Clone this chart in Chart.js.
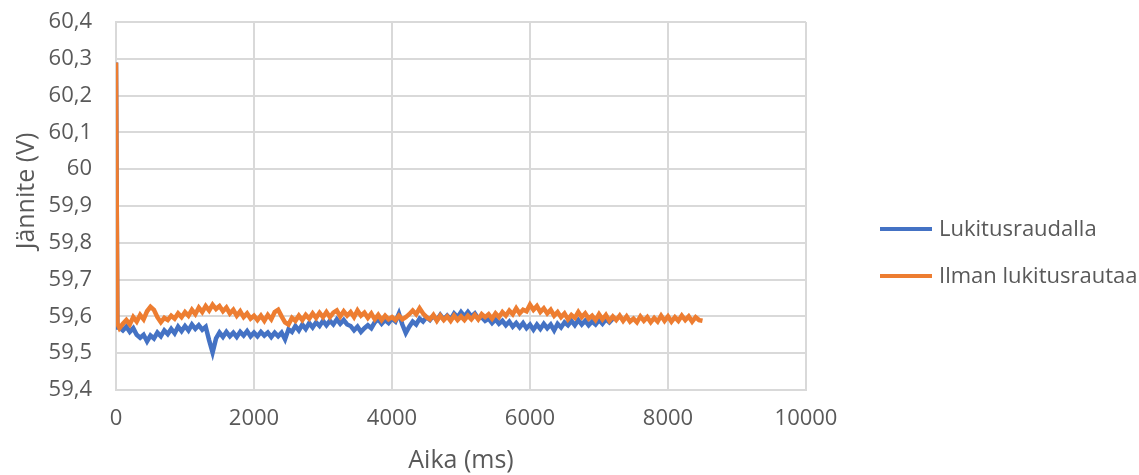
<!DOCTYPE html>
<html>
<head>
<meta charset="utf-8">
<script src="https://cdn.jsdelivr.net/npm/chart.js@4.4.1/dist/chart.umd.min.js"></script>
<style>
  html, body { margin: 0; padding: 0; background: #ffffff; }
  canvas { display: block; }
</style>
</head>
<body>
<canvas id="c" width="1139" height="475"></canvas>
<script>
// ---- Data ----
const seriesNames = ["Lukitusraudalla", "Ilman lukitusrautaa"];
const xTickValues = [0, 2000, 4000, 6000, 8000, 10000];
const yTickValues = [59.4, 59.5, 59.6, 59.7, 59.8, 59.9, 60, 60.1, 60.2, 60.3, 60.4];
const xTitle = "Aika (ms)";
const yTitle = "Jännite (V)";

const timeMs = [
  0, 20,
  50, 100, 150, 200, 250, 300, 350, 400, 450, 500,
  550, 600, 650, 700, 750, 800, 850, 900, 950, 1000,
  1050, 1100, 1150, 1200, 1250, 1300, 1350, 1400, 1450, 1500,
  1550, 1600, 1650, 1700, 1750, 1800, 1850, 1900, 1950, 2000,
  2050, 2100, 2150, 2200, 2250, 2300, 2350, 2400, 2450, 2500,
  2550, 2600, 2650, 2700, 2750, 2800, 2850, 2900, 2950, 3000,
  3050, 3100, 3150, 3200, 3250, 3300, 3350, 3400, 3450, 3500,
  3550, 3600, 3650, 3700, 3750, 3800, 3850, 3900, 3950, 4000,
  4050, 4100, 4150, 4200, 4250, 4300, 4350, 4400, 4450, 4500,
  4550, 4600, 4650, 4700, 4750, 4800, 4850, 4900, 4950, 5000,
  5050, 5100, 5150, 5200, 5250, 5300, 5350, 5400, 5450, 5500,
  5550, 5600, 5650, 5700, 5750, 5800, 5850, 5900, 5950, 6000,
  6050, 6100, 6150, 6200, 6250, 6300, 6350, 6400, 6450, 6500,
  6550, 6600, 6650, 6700, 6750, 6800, 6850, 6900, 6950, 7000,
  7050, 7100, 7150, 7200, 7250, 7300, 7350, 7400, 7450, 7500,
  7550, 7600, 7650, 7700, 7750, 7800, 7850, 7900, 7950, 8000,
  8050, 8100, 8150, 8200, 8250, 8300, 8350, 8400, 8450, 8500
];

const voltWithIron = [
  60.29, 59.57,
  59.57, 59.562, 59.572, 59.558, 59.568, 59.55, 59.542, 59.55, 59.532, 59.548,
  59.54, 59.556, 59.546, 59.562, 59.552, 59.566, 59.554, 59.572, 59.56, 59.574,
  59.562, 59.578, 59.566, 59.576, 59.564, 59.572, 59.535, 59.502, 59.54, 59.556,
  59.544, 59.558, 59.546, 59.556, 59.544, 59.558, 59.548, 59.56, 59.546, 59.556,
  59.546, 59.558, 59.548, 59.556, 59.544, 59.556, 59.546, 59.556, 59.538, 59.565,
  59.558, 59.574, 59.562, 59.578, 59.566, 59.582, 59.57, 59.584, 59.574, 59.588,
  59.576, 59.588, 59.578, 59.592, 59.58, 59.59, 59.578, 59.574, 59.562, 59.572,
  59.558, 59.568, 59.576, 59.568, 59.584, 59.592, 59.58, 59.59, 59.582, 59.594,
  59.586, 59.608, 59.578, 59.555, 59.572, 59.586, 59.578, 59.594, 59.586, 59.598,
  59.59, 59.602, 59.59, 59.604, 59.592, 59.602, 59.592, 59.608, 59.598, 59.612,
  59.6, 59.612, 59.6, 59.608, 59.594, 59.598, 59.588, 59.594, 59.582, 59.592,
  59.58, 59.588, 59.576, 59.586, 59.572, 59.582, 59.57, 59.582, 59.568, 59.578,
  59.564, 59.578, 59.566, 59.58, 59.568, 59.578, 59.562, 59.58, 59.57, 59.584,
  59.576, 59.588, 59.576, 59.59, 59.578, 59.588, 59.576, 59.586, 59.578, 59.59,
  59.58, 59.592, 59.584, 59.594
];

const voltWithoutIron = [
  60.29, 59.58,
  59.568, 59.58, 59.59, 59.578, 59.598, 59.586, 59.604, 59.592, 59.614, 59.626,
  59.618, 59.598, 59.584, 59.596, 59.59, 59.602, 59.594, 59.608, 59.598, 59.612,
  59.602, 59.618, 59.606, 59.624, 59.612, 59.628, 59.616, 59.632, 59.62, 59.628,
  59.614, 59.624, 59.608, 59.618, 59.602, 59.614, 59.598, 59.608, 59.594, 59.602,
  59.59, 59.602, 59.588, 59.604, 59.592, 59.612, 59.618, 59.6, 59.584, 59.578,
  59.596, 59.588, 59.602, 59.59, 59.604, 59.594, 59.608, 59.596, 59.61, 59.598,
  59.612, 59.598, 59.61, 59.616, 59.6, 59.614, 59.602, 59.612, 59.598, 59.616,
  59.602, 59.61, 59.596, 59.608, 59.592, 59.604, 59.59, 59.602, 59.592, 59.598,
  59.59, 59.602, 59.592, 59.598, 59.606, 59.616, 59.606, 59.622, 59.608, 59.598,
  59.592, 59.604, 59.588, 59.602, 59.59, 59.6, 59.588, 59.602, 59.59, 59.6,
  59.59, 59.602, 59.592, 59.604, 59.592, 59.606, 59.598, 59.606, 59.594, 59.608,
  59.598, 59.612, 59.602, 59.616, 59.606, 59.622, 59.608, 59.618, 59.614, 59.632,
  59.618, 59.628, 59.612, 59.622, 59.608, 59.618, 59.602, 59.612, 59.598, 59.608,
  59.592, 59.604, 59.596, 59.612, 59.598, 59.608, 59.594, 59.602, 59.59, 59.606,
  59.592, 59.604, 59.588, 59.6, 59.59, 59.602, 59.588, 59.6, 59.586, 59.594,
  59.584, 59.6, 59.588, 59.598, 59.584, 59.596, 59.586, 59.602, 59.588, 59.6,
  59.586, 59.598, 59.588, 59.602, 59.59, 59.6, 59.586, 59.598, 59.59, 59.588
];

const seriesColors = ["#4472C4", "#ED7D31"];

// ---- Build chart ----
const FONT = "'Open Sans', 'Liberation Sans', sans-serif";
const TEXT = "#595959";
const GRID = "#d9d9d9";

function toPoints(xs, ys) {
  return ys.map((v, i) => ({ x: xs[i], y: v }));
}

const extraText = {
  id: "extraText",
  afterDraw(chart) {
    const ctx = chart.ctx;
    const area = chart.chartArea;
    ctx.save();
    ctx.fillStyle = TEXT;
    ctx.font = "25px " + FONT;
    ctx.textAlign = "center";
    ctx.textBaseline = "middle";
    // x title
    ctx.fillText(xTitle, (area.left + area.right) / 2, 461);
    // y title
    ctx.save();
    ctx.translate(27, 191);
    ctx.rotate(-Math.PI / 2);
    ctx.fillText(yTitle, 0, 0);
    ctx.restore();
    // legend
    ctx.font = "22px " + FONT;
    ctx.textAlign = "left";
    const rows = [229, 276];
    chart.data.datasets.forEach((ds, i) => {
      const y = rows[i];
      ctx.strokeStyle = ds.borderColor;
      ctx.lineWidth = 4;
      ctx.beginPath();
      ctx.moveTo(880, y);
      ctx.lineTo(932, y);
      ctx.stroke();
      ctx.fillStyle = TEXT;
      ctx.fillText(ds.label, 939, y + 1);
    });
    ctx.restore();
  }
};

new Chart(document.getElementById("c"), {
  type: "line",
  data: {
    datasets: [
      {
        label: seriesNames[0],
        data: toPoints(timeMs, voltWithIron),
        borderColor: seriesColors[0],
        backgroundColor: seriesColors[0],
        borderWidth: 4.5,
        pointRadius: 0,
        tension: 0,
        order: 1
      },
      {
        label: seriesNames[1],
        data: toPoints(timeMs, voltWithoutIron),
        borderColor: seriesColors[1],
        backgroundColor: seriesColors[1],
        borderWidth: 4.5,
        pointRadius: 0,
        tension: 0,
        order: 0
      }
    ]
  },
  options: {
    responsive: false,
    animation: false,
    events: [],
    layout: { padding: { top: 22, right: 333, bottom: 0, left: 0 } },
    plugins: {
      legend: { display: false },
      tooltip: { enabled: false },
      title: { display: false }
    },
    scales: {
      x: {
        type: "linear",
        min: xTickValues[0],
        max: xTickValues[xTickValues.length - 1],
        afterBuildTicks(scale) { scale.ticks = xTickValues.map(v => ({ value: v })); },
        afterFit(scale) { scale.height = 85; },
        grid: { color: GRID, lineWidth: 2, drawTicks: false },
        border: { color: GRID, width: 2 },
        ticks: {
          color: TEXT,
          font: { family: FONT, size: 22 },
          padding: 16,
          maxRotation: 0,
          callback: v => String(v)
        },
        title: { display: false }
      },
      y: {
        type: "linear",
        min: yTickValues[0],
        max: yTickValues[yTickValues.length - 1],
        afterBuildTicks(scale) { scale.ticks = yTickValues.map(v => ({ value: v })); },
        afterFit(scale) {
          scale.width = 116;
          scale.paddingTop = 10;
          scale.paddingBottom = 10;
        },
        grid: { color: GRID, lineWidth: 2, drawTicks: false },
        border: { color: GRID, width: 2 },
        ticks: {
          color: TEXT,
          font: { family: FONT, size: 22 },
          padding: 24,
          callback: v => String(Number(Number(v).toFixed(1))).replace(".", ",")
        },
        title: { display: false }
      }
    }
  },
  plugins: [extraText]
});
</script>
</body>
</html>
